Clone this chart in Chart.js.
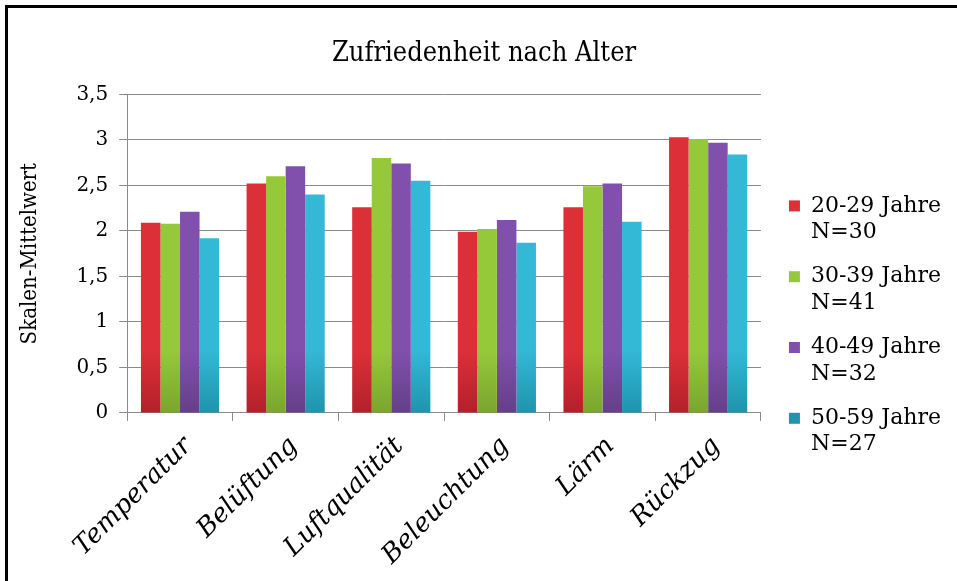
<!DOCTYPE html>
<html>
<head>
<meta charset="utf-8">
<script src="https://cdn.jsdelivr.net/npm/chart.js@4.4.1/dist/chart.umd.min.js"></script>
<style>
    html, body { margin: 0; padding: 0; background: #fff; overflow: hidden; }
    #frame {
        position: absolute; left: 5px; top: 5px; width: 1000px; height: 700px;
        border-left: 3px solid #000; border-top: 3px solid #000;
    }
    #wrap { position: absolute; left: 0; top: 0; width: 957px; height: 581px; }
</style>
</head>
<body>
<div id="frame"></div>
<div id="wrap"><canvas id="myChart"></canvas></div>
<script>
const categories = ['Temperatur', 'Belüftung', 'Luftqualität', 'Beleuchtung', 'Lärm', 'Rückzug']
const groupNames = [['20-29 Jahre', 'N=30'], ['30-39 Jahre', 'N=41'], ['40-49 Jahre', 'N=32'], ['50-59 Jahre', 'N=27']]
const age20 = [2.09, 2.52, 2.26, 1.99, 2.26, 3.03]
const age30 = [2.08, 2.60, 2.80, 2.02, 2.49, 3.01]
const age40 = [2.21, 2.71, 2.74, 2.12, 2.52, 2.97]
const age50 = [1.92, 2.40, 2.55, 1.87, 2.10, 2.84]
const yTicks = [0, 0.5, 1, 1.5, 2, 2.5, 3, 3.5]

const colors = [
    ['#dc3039', '#b3202a'],
    ['#96c93a', '#7aa52d'],
    ['#8150ad', '#653f8a'],
    ['#33b9d6', '#1f94ae']
]

// vertical shading like the office bar style
function shade(idx){
    return (ctx) => {
        const area = ctx.chart.chartArea
        if(!area) return colors[idx][0]
        const g = ctx.chart.ctx.createLinearGradient(0, area.top, 0, area.bottom)
        g.addColorStop(0, colors[idx][0])
        g.addColorStop(0.8, colors[idx][0])
        g.addColorStop(1, colors[idx][1])
        return g
    }
}

const serif = "'DejaVu Serif', serif"
const serifNarrow = "'DejaVu Serif Condensed', 'DejaVu Serif', serif"
const series = [age20, age30, age40, age50]

const ctx = document.getElementById('myChart')
new Chart(ctx, {
    type: 'bar',
    data: {
        labels: categories,
        datasets: series.map((data, i) => ({
            label: groupNames[i],
            data,
            backgroundColor: shade(i),
            borderWidth: 0,
            barPercentage: 1,
            categoryPercentage: 0.74
        }))
    },
    options: {
        responsive: true,
        maintainAspectRatio: false,
        animation: false,
        layout: { padding: { left: 17, right: 6, top: 38, bottom: 0 } },
        scales: {
            x: {
                grid: { drawOnChartArea: false, color: '#8a8a8a', tickLength: 8 },
                border: { color: '#8a8a8a' },
                ticks: {
                    color: '#000',
                    padding: 10,
                    labelOffset: 8,
                    maxRotation: 45, minRotation: 45,
                    font: { family: serif, size: 26, style: 'italic' }
                }
            },
            y: {
                min: 0, max: 3.5,
                afterBuildTicks: (axis) => { axis.ticks = yTicks.map(v => ({ value: v })) },
                grid: { color: '#8a8a8a', tickLength: 8 },
                border: { color: '#8a8a8a' },
                ticks: {
                    color: '#000',
                    padding: 11,
                    font: { family: serif, size: 20 },
                    callback: (v) => String(v).replace('.', ',')
                },
                title: {
                    display: true,
                    text: 'Skalen-Mittelwert',
                    color: '#000',
                    font: { family: serifNarrow, size: 22 },
                    padding: { top: 0, bottom: 22 }
                }
            },
            // empty spacer between the plot and the legend
            gap: {
                position: 'right',
                display: true,
                grid: { display: false },
                border: { display: false },
                ticks: { display: false },
                afterFit: (s) => { s.width = 10 }
            }
        },
        plugins: {
            title: {
                display: true,
                text: 'Zufriedenheit nach Alter',
                color: '#000',
                font: { family: serifNarrow, size: 27, weight: 'normal' },
                padding: { top: 0, bottom: 24 }
            },
            legend: {
                position: 'right',
                maxWidth: 300,
                // blank title only pushes the entries a bit lower
                title: { display: true, text: ' ', font: { size: 10 }, padding: { top: 12, bottom: 12 } },
                labels: {
                    color: '#000',
                    boxWidth: 11,
                    boxHeight: 11,
                    padding: 18,
                    font: { family: serif, size: 22 }
                }
            },
            tooltip: { enabled: false }
        }
    }
})
</script>
</body>
</html>
